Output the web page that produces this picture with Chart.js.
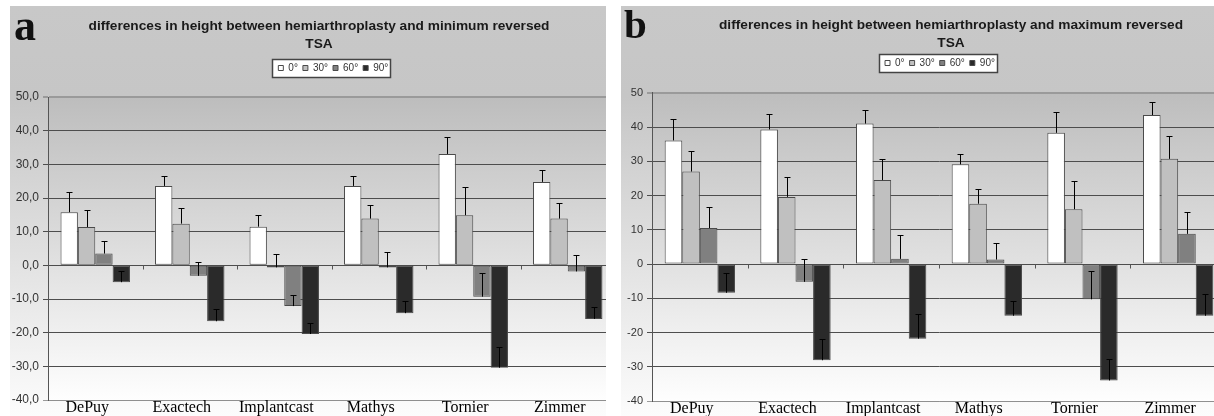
<!DOCTYPE html>
<html>
<head>
<meta charset="utf-8">
<script src="https://cdn.jsdelivr.net/npm/chart.js@4.4.1/dist/chart.umd.min.js"></script>
<style>
  body { margin: 0; width: 1214px; height: 416px; background: #fff; overflow: hidden; position: relative; }
  .panel { position: absolute; top: 6px; height: 410px; overflow: hidden;
           background: linear-gradient(to bottom, #c8c8c8 0%, #c6c6c6 22%, #fcfcfc 100%); }
  .panel canvas { position: absolute; left: 0; top: 0; }
  .letter { position: absolute; font-family: 'Liberation Serif', 'Times New Roman', serif; font-weight: bold; color: #111; }
</style>
</head>
<body>
<div class="panel" style="left:10px;width:596px;">
  <canvas id="chartA" width="620" height="410"></canvas>
  <div class="letter" style="left:4px;top:-2px;font-size:44px;line-height:44px;">a</div>
</div>
<div class="panel" style="left:621px;width:593px;">
  <canvas id="chartB" width="620" height="411"></canvas>
  <div class="letter" style="left:3px;top:-2px;font-size:41px;line-height:41px;">b</div>
</div>
<script>
// data
const categories = ['DePuy', 'Exactech', 'Implantcast', 'Mathys', 'Tornier', 'Zimmer'];
const angles = ['0°', '30°', '60°', '90°'];

// a: hemiarthroplasty vs minimum reversed TSA
const minDeg0 = [15.8, 23.6, 11.5, 23.6, 33.1, 24.8];
const minDeg30 = [11.4, 12.4, -0.6, 13.9, 14.9, 13.9];
const minDeg60 = [3.5, -3.1, -12.1, -0.6, -9.3, -1.8];
const minDeg90 = [-5.0, -16.6, -20.4, -14.2, -30.4, -15.9];
const minErr0 = [6.0, 2.9, 3.4, 2.9, 5.1, 3.4];
const minErr30 = [5.0, 4.6, 4.1, 4.1, 8.4, 4.6];
const minErr60 = [3.7, 4.2, 3.4, 4.6, 7.1, 4.9];
const minErr90 = [3.3, 3.7, 3.3, 3.7, 6.0, 3.5];

// b: hemiarthroplasty vs maximum reversed TSA
const maxDeg0 = [36.1, 39.3, 41.0, 29.1, 38.3, 43.5];
const maxDeg30 = [27.0, 19.6, 24.5, 17.6, 16.0, 30.7];
const maxDeg60 = [10.5, -5.2, 1.5, 1.3, -10.3, 8.8];
const maxDeg90 = [-8.4, -28.1, -21.8, -15.1, -34.0, -15.1];
const maxErr0 = [6.3, 4.5, 4.1, 3.0, 6.0, 3.8];
const maxErr30 = [6.1, 5.9, 6.1, 4.2, 8.1, 6.8];
const maxErr60 = [6.1, 6.7, 7.1, 4.8, 8.2, 6.5];
const maxErr90 = [5.8, 6.3, 7.1, 4.3, 6.2, 6.3];

const fills = ['#ffffff', '#c0c0c0', '#808080', '#2a2a2a'];
const legendPad = 5;
const legendFont = 10;

// excel-ish look: placed title/legend, legend frame, plot gradient, error bars
const excelLook = {
    id: 'excelLook',
    afterLayout(chart, args, opts) {
        const t = chart.titleBlock;
        const dxT = opts.titleX - (t.left + t.right) / 2;
        t.left += dxT; t.right += dxT;
        const l = chart.legend;
        const dxL = opts.legendX - (l.left + l.right) / 2;
        const dyL = opts.legendY - (l.top + legendPad + legendFont / 2);
        l.left += dxL; l.right += dxL;
        l.top += dyL; l.bottom += dyL;
    },
    beforeDraw(chart, args, opts) {
        const ctx = chart.ctx;
        const a = chart.chartArea;
        const g = ctx.createLinearGradient(0, a.top, 0, a.bottom);
        g.addColorStop(0, '#bdbdbd');
        g.addColorStop(1, '#fefefe');
        ctx.save();
        ctx.fillStyle = g;
        ctx.fillRect(a.left, a.top, a.right - a.left, a.bottom - a.top);
        const hb = chart.legend.legendHitBoxes;
        if (hb && hb.length) {
            const first = hb[0], last = hb[hb.length - 1];
            const x0 = Math.round(first.left - 6) + 0.5;
            const x1 = Math.round(last.left + last.width + 2) + 0.5;
            const y0 = Math.round(opts.legendY - 9) + 0.5;
            ctx.fillStyle = '#ffffff';
            ctx.fillRect(x0, y0, x1 - x0, 18);
            ctx.strokeStyle = '#444';
            ctx.lineWidth = 1.5;
            ctx.strokeRect(x0, y0, x1 - x0, 18);
        }
        ctx.restore();
    },
    afterDatasetsDraw(chart, args, opts) {
        const ctx = chart.ctx;
        const y = chart.scales.y, x = chart.scales.x;
        ctx.save();
        ctx.strokeStyle = '#000';
        ctx.lineWidth = 1;
        chart.data.datasets.forEach((ds, i) => {
            const meta = chart.getDatasetMeta(i);
            meta.data.forEach((bar, j) => {
                const v = ds.data[j];
                const bx = Math.round(bar.x) + 0.5;
                const y0 = y.getPixelForValue(v);
                const y1 = Math.round(y.getPixelForValue(v + opts.errors[i][j])) + 0.5;
                ctx.beginPath();
                ctx.moveTo(bx, y0);
                ctx.lineTo(bx, y1);
                ctx.moveTo(bx - 3, y1);
                ctx.lineTo(bx + 3, y1);
                ctx.stroke();
            });
        });
        // category tick marks on the zero line
        const zy = Math.round(y.getPixelForValue(0)) + 0.5;
        ctx.strokeStyle = '#555';
        for (let k = 1; k < categories.length; k++) {
            const tx = Math.round((x.getPixelForValue(k - 1) + x.getPixelForValue(k)) / 2) + 0.5;
            ctx.beginPath();
            ctx.moveTo(tx, zy);
            ctx.lineTo(tx, zy + 4);
            ctx.stroke();
        }
        ctx.restore();
    }
};

function makeChart(id, title, series, errors, tickFmt, look, yWidth, yFont) {
    new Chart(document.getElementById(id), {
        type: 'bar',
        data: {
            labels: categories,
            datasets: series.map((s, i) => ({
                label: angles[i],
                data: s,
                backgroundColor: fills[i],
                borderColor: '#4a4a4a',
                borderWidth: 1,
                borderSkipped: false,
                categoryPercentage: 0.735,
                barPercentage: 1.0
            }))
        },
        plugins: [excelLook],
        options: {
            responsive: false,
            animation: false,
            devicePixelRatio: 1,
            layout: { padding: { left: 0, right: 15, top: 0, bottom: 0 } },
            plugins: {
                title: {
                    display: true,
                    text: title,
                    color: '#1a1a1a',
                    font: { family: "'Liberation Sans', Arial, sans-serif", size: 13.7, weight: 'bold', lineHeight: 1.28 },
                    padding: { top: look.titleTop, bottom: look.titleBottom }
                },
                legend: {
                    display: true,
                    labels: {
                        color: '#333',
                        font: { family: "'Liberation Sans', Arial, sans-serif", size: legendFont },
                        boxWidth: 5,
                        boxHeight: 5,
                        padding: legendPad
                    }
                },
                tooltip: { enabled: false },
                excelLook: Object.assign({ errors: errors }, look)
            },
            scales: {
                x: {
                    grid: { display: false, drawTicks: false },
                    border: { display: true, color: '#8f8f8f' },
                    ticks: {
                        color: '#000',
                        font: { family: "'Liberation Serif', 'Times New Roman', serif", size: 16, lineHeight: 1 },
                        padding: 0,
                        labelOffset: -8,
                        maxRotation: 0,
                        autoSkip: false
                    }
                },
                y: {
                    min: -40,
                    max: 50,
                    afterFit: s => { s.width = yWidth; },
                    grid: {
                        color: c => (c.tick && (c.tick.value === 50 || c.tick.value === -40)) ? '#9a9a9a' : '#4d4d4d',
                        lineWidth: c => (c.tick && c.tick.value === 50) ? 2 : 1,
                        tickLength: 5
                    },
                    border: { display: true, color: '#555' },
                    ticks: {
                        stepSize: 10,
                        color: '#333',
                        padding: 4,
                        font: { family: "'Liberation Sans', Arial, sans-serif", size: yFont },
                        callback: tickFmt
                    }
                }
            }
        }
    });
}

makeChart('chartA',
    ['differences in height between hemiarthroplasty and minimum reversed', 'TSA'],
    [minDeg0, minDeg30, minDeg60, minDeg90],
    [minErr0, minErr30, minErr60, minErr90],
    v => v.toFixed(1).replace('.', ','),
    { titleX: 309, legendX: 323.3, legendY: 62, titleTop: 11.75, titleBottom: 19.25 },
    38, 12);

makeChart('chartB',
    ['differences in height between hemiarthroplasty and maximum reversed', 'TSA'],
    [maxDeg0, maxDeg30, maxDeg60, maxDeg90],
    [maxErr0, maxErr30, maxErr60, maxErr90],
    v => String(v),
    { titleX: 330, legendX: 319, legendY: 57, titleTop: 10.75, titleBottom: 15.95 },
    31, 11);
</script>
</body>
</html>
